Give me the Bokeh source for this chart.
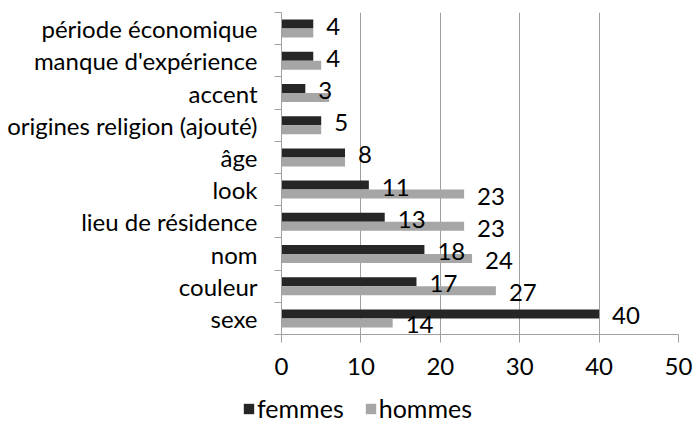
from bokeh.plotting import figure
from bokeh.layouts import column
from bokeh.models import ColumnDataSource, FixedTicker, Legend, LegendItem, Range1d
from bokeh.transform import dodge
from bokeh.core.properties import value
from bokeh.embed import file_html
from bokeh.resources import INLINE

categories = ["sexe", "couleur", "nom", "lieu de résidence", "look", "âge",
              "origines religion (ajouté)", "accent", "manque d'expérience",
              "période économique"]
femmes = [40, 17, 18, 13, 11, 8, 5, 3, 4, 4]
hommes = [14, 27, 24, 23, 23, 8, 5, 6, 5, 4]
femmes_labels = ["40", "17", "18", "13", "11", "8", "5", "3", "4", "4"]
hommes_labels = ["14", "27", "24", "23", "23", "", "", "", "", ""]
x_ticks = [0, 10, 20, 30, 40, 50]
series_names = ["femmes", "hommes"]

DARK = "#262626"
GRAY = "#a6a6a6"
AXIS = "#a0a0a0"
FONT = "Lato"
FS = "24px"

W, H_MAIN, H_LEG = 693, 384, 39

ypos = list(range(len(categories)))
src = ColumnDataSource(dict(y=ypos, femmes=femmes, hommes=hommes,
                            fl=femmes_labels, hl=hommes_labels))

p = figure(width=W, height=H_MAIN, output_backend="svg", toolbar_location=None,
           x_range=Range1d(0, 50), y_range=Range1d(-0.5, len(categories) - 0.5),
           min_border_left=281, min_border_right=15, min_border_top=12,
           min_border_bottom=50, outline_line_color=None, frame_align=False)

p.hbar(y=dodge("y", 0.14, range=p.y_range), left=0, right="femmes", height=0.28,
       source=src, fill_color=DARK, line_color=None)
p.hbar(y=dodge("y", -0.14, range=p.y_range), left=0, right="hommes", height=0.28,
       source=src, fill_color=GRAY, line_color=None)

p.text(x="femmes", y=dodge("y", 0.14, range=p.y_range), text="fl", source=src,
       x_offset=13, y_offset=2, text_baseline="middle", text_align="left",
       text_font=value(FONT), text_font_size=FS, text_color="black")
p.text(x="hommes", y=dodge("y", -0.14, range=p.y_range), text="hl", source=src,
       x_offset=13, y_offset=2, text_baseline="middle", text_align="left",
       text_font=value(FONT), text_font_size=FS, text_color="black")

# y axis
p.yaxis.ticker = FixedTicker(ticks=ypos, minor_ticks=[i - 0.5 for i in range(len(categories) + 1)])
p.yaxis.major_label_overrides = {i: c for i, c in zip(ypos, categories)}
p.yaxis.major_tick_line_color = None
p.yaxis.major_tick_out = 0
p.yaxis.major_tick_in = 0
p.yaxis.minor_tick_line_color = AXIS
p.yaxis.minor_tick_out = 7
p.yaxis.minor_tick_in = 0
p.yaxis.axis_line_color = AXIS
p.yaxis.major_label_standoff = 17
p.yaxis.major_label_text_font = FONT
p.yaxis.major_label_text_font_size = FS
p.yaxis.major_label_text_color = "black"

# x axis
p.xaxis.ticker = FixedTicker(ticks=x_ticks)
p.xaxis.major_tick_line_color = AXIS
p.xaxis.major_tick_out = 8
p.xaxis.major_tick_in = 0
p.xaxis.minor_tick_line_color = None
p.xaxis.axis_line_color = AXIS
p.xaxis.major_label_standoff = 15
p.xaxis.major_label_text_font = FONT
p.xaxis.major_label_text_font_size = FS
p.xaxis.major_label_text_color = "black"

p.xgrid.grid_line_color = AXIS
p.xgrid.ticker = FixedTicker(ticks=x_ticks)
p.ygrid.grid_line_color = None

# legend strip below the chart
pl = figure(width=W, height=H_LEG, output_backend="svg", toolbar_location=None,
            x_range=Range1d(0, 50), y_range=Range1d(-0.5, len(categories) - 0.5),
            x_axis_type=None, y_axis_type=None, outline_line_color=None,
            min_border_left=0, min_border_right=0, min_border_top=0,
            min_border_bottom=0, frame_align=False)
lf = pl.hbar(y="y", left=0, right="femmes", height=0.28, source=src,
             fill_color=DARK, line_color=None, visible=False)
lh = pl.hbar(y="y", left=0, right="hommes", height=0.28, source=src,
             fill_color=GRAY, line_color=None, visible=False)
pl.xgrid.grid_line_color = None
pl.ygrid.grid_line_color = None

legend = Legend(items=[LegendItem(label=series_names[0], renderers=[lf]),
                       LegendItem(label=series_names[1], renderers=[lh])],
                location=(242, 0), orientation="horizontal",
                glyph_width=13, glyph_height=13, label_standoff=2, spacing=20,
                padding=0, margin=0, border_line_color=None,
                background_fill_alpha=0, inactive_fill_alpha=0,
                label_text_font=FONT, label_text_font_size="25px",
                label_text_color="black")
pl.add_layout(legend, "center")

layout = column(p, pl, spacing=0)
open("out.html", "w").write(file_html(layout, INLINE))
